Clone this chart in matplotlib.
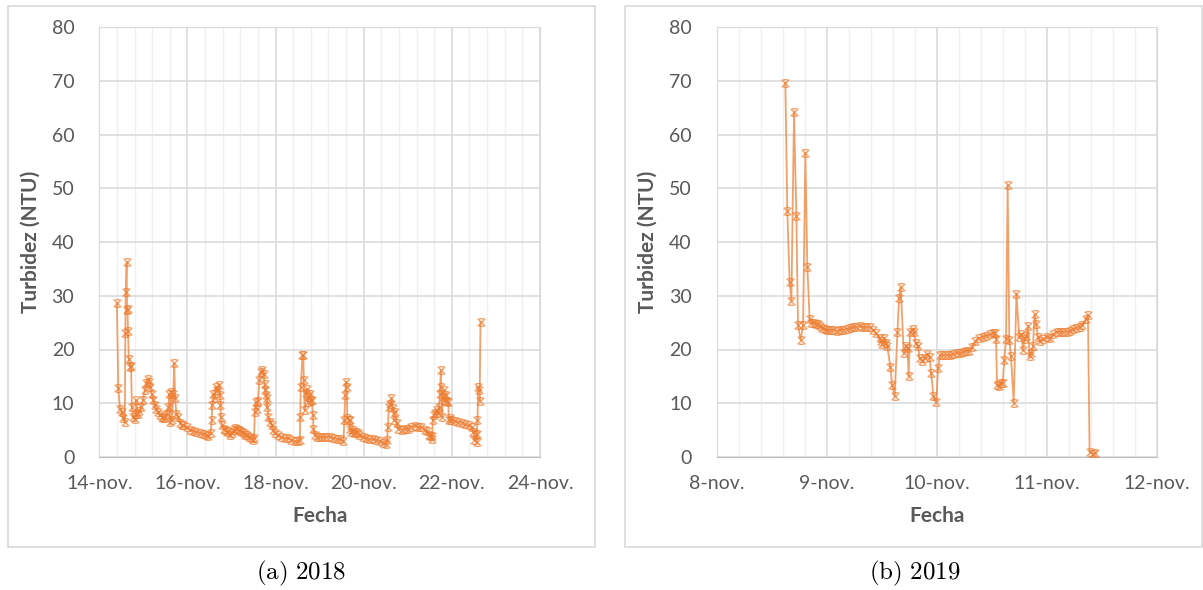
import matplotlib
matplotlib.use('Agg')
import matplotlib.pyplot as plt
from matplotlib.patches import Rectangle
from matplotlib.path import Path
from matplotlib.ticker import MultipleLocator

plt.rcParams['font.family'] = ['Lato', 'DejaVu Sans']
plt.rcParams['mathtext.fontset'] = 'cm'

# 2018: dias desde el 14-nov
dias_2018 = [0.40, 0.43, 0.47, 0.51, 0.54, 0.58, 0.59, 0.60, 0.62, 0.63, 0.64, 0.65, 0.67, 0.70, 0.72,
             0.74, 0.77, 0.80, 0.83, 0.84, 0.87, 0.91, 0.95, 0.99, 1.03, 1.07, 1.11, 1.13, 1.16, 1.19,
             1.22, 1.26, 1.29, 1.33, 1.37, 1.42, 1.45, 1.49, 1.53, 1.57, 1.59, 1.60, 1.63, 1.65, 1.68,
             1.70, 1.72, 1.75, 1.79, 1.83, 1.87, 1.91, 1.98, 2.05, 2.13, 2.20, 2.28, 2.35, 2.42, 2.47,
             2.53, 2.55, 2.56, 2.59, 2.62, 2.65, 2.68, 2.71, 2.74, 2.75, 2.76, 2.78, 2.82, 2.86, 2.90,
             2.93, 2.97, 3.01, 3.05, 3.09, 3.13, 3.16, 3.20, 3.24, 3.28, 3.31, 3.35, 3.39, 3.44, 3.48,
             3.51, 3.53, 3.55, 3.57, 3.60, 3.63, 3.66, 3.69, 3.73, 3.75, 3.77, 3.79, 3.80, 3.81, 3.83,
             3.87, 3.91, 3.94, 3.98, 4.06, 4.13, 4.21, 4.28, 4.36, 4.43, 4.51, 4.55, 4.56, 4.57, 4.61,
             4.63, 4.64, 4.66, 4.68, 4.71, 4.73, 4.76, 4.78, 4.80, 4.82, 4.85, 4.86, 4.89, 4.93, 5.00,
             5.08, 5.15, 5.24, 5.31, 5.39, 5.46, 5.54, 5.56, 5.58, 5.60, 5.61, 5.63, 5.66, 5.68, 5.69,
             5.71, 5.75, 5.79, 5.83, 5.86, 5.90, 5.98, 6.05, 6.13, 6.20, 6.28, 6.36, 6.44, 6.51, 6.53,
             6.55, 6.57, 6.60, 6.63, 6.66, 6.69, 6.72, 6.75, 6.78, 6.86, 6.93, 7.01, 7.08, 7.16, 7.23,
             7.31, 7.39, 7.43, 7.47, 7.50, 7.54, 7.55, 7.57, 7.59, 7.62, 7.66, 7.69, 7.71, 7.73, 7.75,
             7.76, 7.78, 7.80, 7.82, 7.84, 7.87, 7.89, 7.92, 7.93, 7.96, 7.99, 8.07, 8.14, 8.22, 8.29,
             8.38, 8.45, 8.49, 8.51, 8.54, 8.56, 8.57, 8.58, 8.60, 8.61, 8.63, 8.65]
turb_2018 = [28.6, 12.9, 9.0, 8.4, 7.2, 6.6, 23.0, 30.7, 36.2, 27.3, 27.5, 23.5, 18.3, 16.8, 17.0,
             9.3, 7.5, 7.0, 8.0, 10.6, 8.0, 8.6, 9.3, 10.6, 12.4, 13.7, 14.6, 14.0, 13.1, 11.8,
             10.6, 9.6, 9.0, 8.4, 7.8, 7.5, 7.2, 7.2, 8.0, 9.3, 11.8, 6.6, 12.1, 6.9, 11.8,
             17.4, 10.9, 8.0, 7.5, 6.3, 5.9, 5.9, 5.6, 5.0, 4.9, 4.7, 4.4, 4.3, 4.1, 4.0,
             4.5, 6.9, 9.6, 11.8, 11.0, 13.0, 12.4, 13.4, 11.5, 9.6, 7.5, 5.9, 5.3, 5.0, 4.7,
             4.8, 4.1, 4.4, 5.0, 5.4, 5.3, 5.0, 4.9, 4.7, 4.4, 4.1, 4.1, 3.8, 3.5, 3.2,
             3.5, 8.4, 10.3, 9.0, 10.4, 14.3, 15.8, 16.1, 15.5, 13.6, 12.4, 11.5, 9.3, 10.9, 7.5,
             6.6, 6.0, 5.0, 4.4, 4.1, 3.7, 3.5, 3.5, 3.2, 2.9, 2.9, 3.2, 7.5, 13.0, 18.9,
             18.9, 14.3, 8.7, 12.0, 12.7, 10.2, 11.1, 11.8, 10.4, 10.6, 7.8, 5.3, 4.1, 3.8, 3.8,
             3.7, 3.8, 3.7, 3.5, 3.4, 3.3, 2.9, 6.9, 11.5, 14.0, 13.0, 7.2, 6.9, 6.9, 5.3,
             4.7, 5.0, 4.4, 4.7, 4.4, 4.1, 3.8, 3.5, 3.4, 3.3, 3.2, 2.9, 2.6, 2.5, 3.2,
             5.6, 9.3, 9.9, 10.9, 9.1, 6.9, 8.4, 6.3, 5.3, 5.1, 5.3, 5.3, 5.6, 5.8, 5.6,
             5.5, 5.1, 4.8, 4.1, 3.9, 3.3, 3.9, 6.9, 7.8, 8.1, 8.7, 8.1, 9.3, 11.8, 16.1,
             13.0, 7.5, 11.2, 12.4, 10.5, 11.5, 10.5, 10.2, 6.9, 7.2, 6.9, 6.7, 6.5, 6.4, 6.1,
             5.9, 5.6, 4.7, 3.2, 4.1, 2.8, 4.3, 6.9, 13.0, 12.4, 10.5, 25.1]

# 2019: dias desde el 8-nov
dias_2019 = [0.624, 0.642, 0.663, 0.679, 0.703, 0.724, 0.739, 0.764, 0.785, 0.806, 0.824, 0.845,
             0.86, 0.88, 0.90, 0.92, 0.94, 0.96, 0.98, 1.00, 1.03, 1.06, 1.09, 1.12, 1.15, 1.18,
             1.21, 1.24, 1.27, 1.30, 1.33, 1.36, 1.39, 1.42, 1.45, 1.48, 1.49, 1.506, 1.52, 1.535,
             1.55, 1.579, 1.595, 1.618, 1.643, 1.658, 1.673, 1.70, 1.72, 1.735, 1.745, 1.757, 1.78,
             1.79, 1.809, 1.83, 1.845, 1.87, 1.89, 1.91, 1.935, 1.95, 1.97, 1.997, 2.012, 2.03,
             2.06, 2.09, 2.12, 2.15, 2.18, 2.21, 2.24, 2.27, 2.29, 2.32, 2.35, 2.38, 2.42, 2.45,
             2.48, 2.51, 2.53, 2.54, 2.548, 2.565, 2.585, 2.60, 2.615, 2.63, 2.645, 2.66, 2.675,
             2.70, 2.725, 2.75, 2.77, 2.785, 2.80, 2.815, 2.83, 2.845, 2.86, 2.875, 2.89, 2.905,
             2.92, 2.935, 2.97, 3.00, 3.03, 3.06, 3.09, 3.12, 3.15, 3.18, 3.21, 3.24, 3.27, 3.30,
             3.32, 3.355, 3.375, 3.39, 3.42, 3.44]
turb_2019 = [69.6, 45.7, 32.5, 29.1, 64.2, 44.9, 24.5, 21.8, 24.5, 56.6, 35.4, 25.6,
             25.0, 24.9, 24.8, 24.7, 24.4, 24.0, 23.8, 23.7, 23.6, 23.6, 23.5, 23.6, 23.7, 23.8,
             24.0, 24.1, 24.2, 24.3, 24.2, 24.1, 24.2, 23.6, 23.0, 22.1, 21.5, 21.1, 22.1, 21.3,
             20.7, 16.7, 13.4, 11.3, 23.2, 29.6, 31.7, 19.3, 20.6, 20.3, 15.0, 23.3, 23.8,
             23.3, 21.2, 20.6, 18.4, 17.8, 18.4, 19.2, 18.6, 15.6, 11.3, 10.3, 16.5, 19.0,
             19.0, 18.9, 19.0, 19.1, 19.3, 19.4, 19.6, 19.7, 19.8, 20.4, 21.5, 22.1, 22.4, 22.6,
             22.8, 23.0, 23.1, 21.9, 13.4, 13.2, 13.8, 13.8, 18.1, 22.0, 50.6, 21.8, 18.7,
             10.1, 30.4, 22.4, 22.9, 19.9, 22.0, 22.6, 24.4, 18.7, 19.4, 20.6, 26.6, 24.7,
             22.4, 21.5, 21.9, 22.4, 22.1, 22.9, 23.3, 23.3, 23.3, 23.3, 23.5, 23.8, 24.0, 24.1,
             24.6, 25.6, 26.4, 0.9, 0.6, 0.7]

ticks_2018 = ['14-nov.', '16-nov.', '18-nov.', '20-nov.', '22-nov.', '24-nov.']
ticks_2019 = ['8-nov.', '9-nov.', '10-nov.', '11-nov.', '12-nov.']

naranja = '#ED7D31'
gris = '#595959'

# marcador tipo "x" con barras, como el de Excel
marca = Path([(-1, 1), (1, -1), (-1, -1), (1, 1), (-0.6, 1), (0.6, 1), (-0.6, -1), (0.6, -1)],
             [Path.MOVETO, Path.LINETO, Path.MOVETO, Path.LINETO,
              Path.MOVETO, Path.LINETO, Path.MOVETO, Path.LINETO])

fig = plt.figure(figsize=(12.03, 5.9), dpi=100)
W, H = 1203, 590

# marcos de cada panel
for x0, x1 in [(8, 595), (625, 1202)]:
    fig.patches.append(Rectangle((x0 / W, 43 / H), (x1 - x0) / W, 541 / H, transform=fig.transFigure,
                                 fill=False, edgecolor='#D9D9D9', linewidth=1.2))

ax1 = fig.add_axes([99.3 / W, 133 / H, 440.7 / W, 430 / H])
ax2 = fig.add_axes([716.7 / W, 133 / H, 440 / W, 430 / H])

for ax, x, y, ticks, menor in [(ax1, dias_2018, turb_2018, ticks_2018, 0.4),
                               (ax2, dias_2019, turb_2019, ticks_2019, 0.2)]:
    ax.plot(x, y, color=naranja, lw=1.3, alpha=0.72, marker=marca, ms=5.5, mew=1.0,
            mec=naranja, zorder=3)
    paso = 2 if len(ticks) == 6 else 1
    ax.set_xlim(0, paso * (len(ticks) - 1))
    ax.set_ylim(0, 80)
    ax.set_xticks([i * paso for i in range(len(ticks))])
    ax.set_xticklabels(ticks)
    ax.set_yticks(range(0, 81, 10))
    ax.xaxis.set_minor_locator(MultipleLocator(menor))
    ax.grid(True, which='major', color='#D9D9D9', lw=1.1, zorder=0)
    ax.grid(True, which='minor', axis='x', color='#F0F0F0', lw=1.0, zorder=0)
    ax.set_axisbelow(True)
    for s in ax.spines.values():
        s.set_color('#D9D9D9')
    ax.spines['bottom'].set_color('#BFBFBF')
    ax.tick_params(axis='both', which='both', length=0, labelsize=14, labelcolor=gris)
    ax.tick_params(axis='y', pad=18)
    ax.tick_params(axis='x', pad=13)
    ax.set_xlabel('Fecha', fontsize=15, fontweight='bold', color=gris, labelpad=10)
    ax.set_ylabel('Turbidez (NTU)', fontsize=15, fontweight='bold', color=gris, labelpad=8)

fig.text(301 / W, 1 - 573 / H, r'$\mathrm{(a)\ 2018}$', ha='center', va='center', fontsize=18)
fig.text(915 / W, 1 - 573 / H, r'$\mathrm{(b)\ 2019}$', ha='center', va='center', fontsize=18)

fig.savefig('out.png', dpi=100)
